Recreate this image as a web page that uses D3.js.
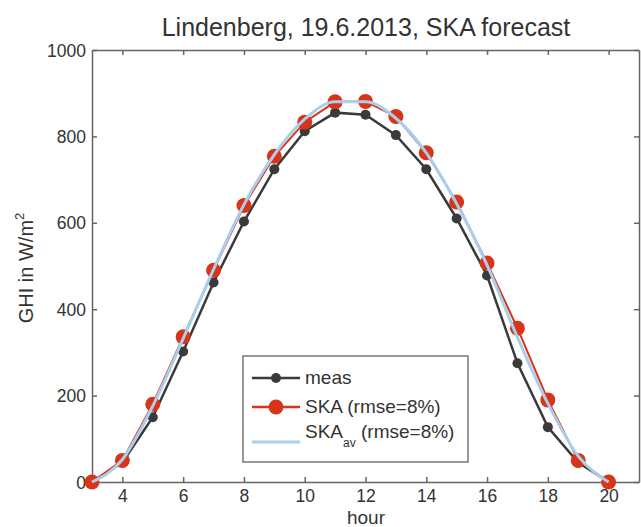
<!DOCTYPE html>
<html><head><meta charset="utf-8">
<script src="https://cdn.jsdelivr.net/npm/d3@7"></script>
<style>body{margin:0;background:#fff}svg{display:block}text{font-family:"Liberation Sans",Arial,sans-serif;fill:#333}</style>
</head><body><div id="chart"></div>
<script>
const hours = [3,4,5,6,7,8,9,10,11,12,13,14,15,16,17,18,19,20];
const meas  = [0,45,150,302,462,603,724,812,855,850,803,724,610,478,275,127,45,0];
const ska   = [0,50,180,336,490,640,754,833,880,881,846,762,648,507,356,190,50,0];
const skaAv = [0,52,176,332,492,642,758,840,880,880,842,762,644,502,335,182,60,0];
const xTicks = [4,6,8,10,12,14,16,18,20];
const yTicks = [0,200,400,600,800,1000];
const legendLabels = ["meas","SKA (rmse=8%)","SKA"];

const W=641,H=527, L=92, R=639, T=50, B=482;
const svg=d3.select("#chart").append("svg").attr("width",W).attr("height",H);
const x=d3.scaleLinear().domain([3,21]).range([L,R]);
const y=d3.scaleLinear().domain([0,1000]).range([B,T]);
const axisColor="#666";
const fnt="Liberation Sans, Arial, sans-serif";

// axes
const gB=svg.append("g").attr("transform",`translate(0,${B})`).call(d3.axisBottom(x).tickValues(xTicks).tickSizeInner(-5).tickSizeOuter(0).tickPadding(8));
const gT=svg.append("g").attr("transform",`translate(0,${T})`).call(d3.axisTop(x).tickValues(xTicks).tickSizeInner(-5).tickSizeOuter(0).tickFormat(""));
const gL=svg.append("g").attr("transform",`translate(${L},0)`).call(d3.axisLeft(y).tickValues(yTicks).tickFormat(d3.format("d")).tickSizeInner(-5).tickSizeOuter(0).tickPadding(6));
const gR=svg.append("g").attr("transform",`translate(${R},0)`).call(d3.axisRight(y).tickValues(yTicks).tickSizeInner(-5).tickSizeOuter(0).tickFormat(""));
[gB,gT,gL,gR].forEach(g=>{g.selectAll("path,line").attr("stroke",axisColor).attr("stroke-width",1.5);g.selectAll("text").style("font-size","17.5px").attr("fill","#333").style("font-family",fnt);});
gL.selectAll("text").attr("dy","0.35em");

// lines
const mk=(vals)=>d3.line().x((d,i)=>x(hours[i])).y(d=>y(d))(vals);
svg.append("path").attr("d",mk(meas)).attr("fill","none").attr("stroke","#3a3a3a").attr("stroke-width",2.5);
svg.append("g").selectAll("circle").data(meas).join("circle").attr("cx",(d,i)=>x(hours[i])).attr("cy",d=>y(d)).attr("r",5).attr("fill","#3a3a3a");
svg.append("path").attr("d",mk(ska)).attr("fill","none").attr("stroke","#d8341a").attr("stroke-width",2);
svg.append("g").selectAll("circle").data(ska).join("circle").attr("cx",(d,i)=>x(hours[i])).attr("cy",d=>y(d)).attr("r",7.5).attr("fill","#d8341a");
svg.append("path").attr("d",d3.line().x((d,i)=>x(hours[i])).y(d=>y(d)).curve(d3.curveMonotoneX)(skaAv)).attr("fill","none").attr("stroke","#a9cfec").attr("stroke-width",3);

// legend
const lg=svg.append("g");
lg.append("rect").attr("x",243).attr("y",356).attr("width",225).attr("height",106).attr("fill","#fff").attr("stroke","#777").attr("stroke-width",1.5);
const ly=[378,407,436];
lg.append("line").attr("x1",252).attr("x2",300).attr("y1",ly[0]).attr("y2",ly[0]).attr("stroke","#3a3a3a").attr("stroke-width",2.5);
lg.append("circle").attr("cx",276).attr("cy",ly[0]).attr("r",5).attr("fill","#3a3a3a");
lg.append("line").attr("x1",252).attr("x2",300).attr("y1",ly[1]).attr("y2",ly[1]).attr("stroke","#d8341a").attr("stroke-width",2.5);
lg.append("circle").attr("cx",276).attr("cy",ly[1]).attr("r",7.5).attr("fill","#d8341a");
lg.append("line").attr("x1",252).attr("x2",300).attr("y1",ly[2]+6).attr("y2",ly[2]+6).attr("stroke","#a9cfec").attr("stroke-width",3);
lg.append("text").attr("x",305).attr("y",ly[0]+6).style("font-size","19px").text(legendLabels[0]);
lg.append("text").attr("x",305).attr("y",ly[1]+6).style("font-size","19px").text(legendLabels[1]);
const t3=lg.append("text").attr("x",305).attr("y",ly[2]+2).style("font-size","19px");
t3.append("tspan").text(legendLabels[2]);
t3.append("tspan").attr("dy",9).style("font-size","12px").text("av");
t3.append("tspan").attr("dy",-9).text(" (rmse=8%)");

// titles
svg.append("text").attr("x",366).attr("y",36).attr("text-anchor","middle").style("font-size","25px").attr("fill","#222").text("Lindenberg, 19.6.2013, SKA forecast");
svg.append("text").attr("x",366).attr("y",524).attr("text-anchor","middle").style("font-size","19px").attr("fill","#222").text("hour");
const yl=svg.append("text").attr("transform","translate(33,268) rotate(-90)").attr("text-anchor","middle").style("font-size","20px").attr("fill","#222");
yl.append("tspan").text("GHI in W/m");
yl.append("tspan").attr("dy",-9).style("font-size","13px").text("2");
</script></body></html>
